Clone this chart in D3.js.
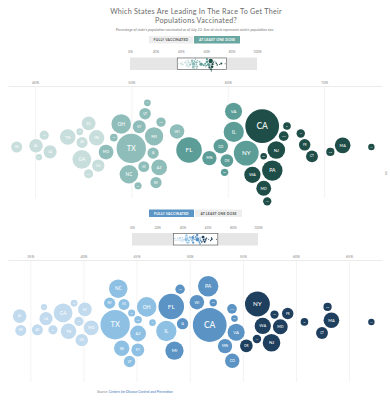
<!DOCTYPE html>
<html><head><meta charset="utf-8">
<script src="https://cdn.jsdelivr.net/npm/d3@7"></script>
<style>
body{margin:0;background:#fff;}
svg{display:block;font-family:Lato,"Open Sans",sans-serif;}
</style></head><body>
<svg id="c" width="390" height="400"></svg>
<script>
const states = ["AL","AK","AZ","AR","CA","CO","CT","DE","DC","FL","GA","HI","ID","IL","IN","IA","KS","KY","LA","ME","MD","MA","MI","MN","MS","MO","MT","NE","NV","NH","NJ","NM","NY","NC","ND","OH","OK","OR","PA","PR","RI","SC","SD","TN","TX","UT","VT","VA","WA","WV","WI","WY"];
const population = [5.02,0.73,7.15,3.01,39.5,5.77,3.61,0.99,0.69,21.5,10.7,1.46,1.84,12.8,6.79,3.19,2.94,4.51,4.66,1.36,6.18,7.03,10.1,5.71,2.96,6.15,1.08,1.96,3.10,1.38,9.29,2.12,20.2,10.4,0.78,11.8,3.96,4.24,13.0,3.29,1.10,5.12,0.89,6.91,29.1,3.27,0.64,8.63,7.71,1.79,5.89,0.58];
const oneDose = [40.2,51.6,52.5,44.6,63.5,59.4,68.7,59.7,63.5,56.0,44.9,67.6,40.9,61.1,46.4,52.2,50.6,50.9,41.5,70.7,63.5,71.9,52.1,58.0,38.1,47.2,48.6,53.0,52.6,64.0,65.0,64.9,61.9,50.1,44.7,49.1,46.5,59.9,64.5,68.0,66.1,45.6,50.5,43.6,50.1,51.3,74.9,60.6,62.9,45.7,54.8,40.4];
const fullyVax = [34.0,46.5,44.8,35.7,52.0,53.9,62.5,52.2,54.2,48.2,38.1,56.5,37.1,47.9,43.6,49.3,43.7,45.0,36.5,63.0,58.2,63.3,48.5,53.3,34.1,40.7,45.4,49.0,42.8,58.0,57.6,54.0,56.4,43.2,39.0,46.0,39.7,55.4,51.6,59.2,60.8,40.1,44.5,38.7,43.1,44.4,67.1,53.9,57.1,39.7,51.2,36.3];
const oneDoseTicks = [40,50,60,70];
const fullyTicks = [35,40,45,50,55,60,65];
const miniTicks = [0,20,40,60,80,100];
const tealColors = ["#c8dedc","#8fbdb9","#5c9e97","#1f4e49"];
const tealBreaks = [47,55,62.5];
const blueColors = ["#c1daee","#8ec0e4","#5a93c4","#1f3f5e"];
const blueBreaks = [41,48,55];

const svg = d3.select("#c");
const rScale = d3.scaleSqrt().domain([0,40]).range([1.2,17]);

// Title
svg.append("text").attr("x",196).attr("y",13.5).attr("text-anchor","middle")
  .attr("font-size",7.2).attr("fill","#6a6a6a").attr("letter-spacing",0.25)
  .text("Which States Are Leading In The Race To Get Their");
svg.append("text").attr("x",196).attr("y",23).attr("text-anchor","middle")
  .attr("font-size",7.2).attr("fill","#6a6a6a").attr("letter-spacing",0.25)
  .text("Populations Vaccinated?");
svg.append("text").attr("x",195).attr("y",30.5).attr("text-anchor","middle")
  .attr("font-size",3.7).attr("font-style","italic").attr("fill","#777")
  .text("Percentage of state's population vaccinated as of July 22. Size of circle represents state's population size.");

function drawChart(cfg){
  const g = svg.append("g");
  // buttons
  cfg.buttons.forEach(b=>{
    g.append("rect").attr("x",b.x).attr("y",cfg.btnY).attr("width",b.w).attr("height",7.5)
      .attr("fill",b.active?cfg.activeColor:"#eeeeee");
    g.append("text").attr("x",b.x+b.w/2).attr("y",cfg.btnY+5).attr("text-anchor","middle")
      .attr("font-size",3.4).attr("font-weight",700).attr("letter-spacing",0.2)
      .attr("fill",b.active?"#fff":"#555").text(b.label);
  });
  // mini overview
  const miniX = d3.scaleLinear().domain([0,100]).range([cfg.miniX0,cfg.miniX1]);
  const miniAxis = g.append("g").attr("transform",`translate(0,${cfg.miniY-1.5})`)
    .call(d3.axisTop(miniX).tickValues(miniTicks).tickSize(0).tickFormat(d=>d+"%"));
  miniAxis.select(".domain").remove();
  miniAxis.selectAll("text").attr("font-size",3.3).attr("fill","#888").attr("font-family","Lato");
  g.append("rect").attr("x",miniX(0)).attr("y",cfg.miniY).attr("width",miniX(100)-miniX(0)).attr("height",12.5).attr("fill","#e6e6e6");
  const d0 = cfg.x.domain();
  g.append("rect").attr("x",miniX(d0[0])).attr("y",cfg.miniY+0.5).attr("width",miniX(d0[1])-miniX(d0[0])).attr("height",11.5)
    .attr("fill","#fff").attr("stroke","#555").attr("stroke-width",0.6);

  // axis
  const ax = g.append("g").attr("transform",`translate(0,${cfg.axisY})`)
    .call(d3.axisTop(cfg.x).tickValues(cfg.ticks).tickSize(0).tickSizeOuter(0).tickPadding(2.5).tickFormat(d=>d+"%"));
  ax.select(".domain").attr("stroke","#e3e3e3").attr("stroke-width",0.7);
  ax.selectAll("text").attr("font-size",3.6).attr("fill","#888").attr("font-family","Lato");
  const grid = g.append("g").attr("transform",`translate(0,${cfg.axisY})`)
    .call(d3.axisBottom(cfg.x).tickValues(cfg.ticks).tickSize(cfg.gridBottom-cfg.axisY).tickFormat(""));
  grid.select(".domain").remove();
  grid.selectAll("line").attr("stroke","#eeeeee").attr("stroke-width",0.7);

  // swarm
  const nodes = states.map((s,i)=>({id:s,v:cfg.values[i],r:rScale(population[i]),x:cfg.x(cfg.values[i]),y:cfg.cy}));
  const sim = d3.forceSimulation(nodes)
    .force("x",d3.forceX(d=>cfg.x(d.v)).strength(1))
    .force("y",d3.forceY(cfg.cy).strength(0.06))
    .force("c",d3.forceCollide(d=>d.r+1).iterations(3))
    .stop();
  for(let i=0;i<400;i++) sim.tick();
  const color = d3.scaleThreshold().domain(cfg.breaks).range(cfg.colors);
  const ng = g.append("g").selectAll("g").data(nodes).join("g").attr("transform",d=>`translate(${d.x},${d.y})`);
  ng.append("circle").attr("r",d=>d.r).attr("fill",d=>color(d.v));
  ng.append("text").attr("text-anchor","middle").attr("dy","0.36em")
    .attr("font-size",d=>Math.max(d.r*0.5,1.2)).attr("font-weight",600).attr("fill","#fff")
    .attr("fill-opacity",0.92).text(d=>d.id);

  // mini swarm copy
  const k = (miniX(1)-miniX(0))/(cfg.x(1)-cfg.x(0));
  g.append("g").selectAll("circle").data(nodes).join("circle")
    .attr("cx",d=>miniX(cfg.x.invert(d.x)))
    .attr("cy",d=>cfg.miniY+6.25+(d.y-cfg.cy)*k)
    .attr("r",d=>Math.max(d.r*k,0.5)).attr("fill",d=>color(d.v));
}

drawChart({
  values: oneDose,
  x: d3.scaleLinear().domain([37.2,76]).range([8,382]),
  ticks: oneDoseTicks, axisY: 86, gridBottom: 198, cy: 147,
  colors: tealColors, breaks: tealBreaks, activeColor:"#6aa7a1",
  btnY: 36, buttons:[{x:149,w:44,label:"FULLY VACCINATED",active:false},{x:194,w:46,label:"AT LEAST ONE DOSE",active:true}],
  miniX0:130, miniX1:257, miniY:57.5
});
drawChart({
  values: fullyVax,
  x: d3.scaleLinear().domain([32.9,68.1]).range([8,382]),
  ticks: fullyTicks, axisY: 260, gridBottom: 382, cy: 322,
  colors: blueColors, breaks: blueBreaks, activeColor:"#5b95c5",
  btnY: 209.5, buttons:[{x:149,w:45,label:"FULLY VACCINATED",active:true},{x:195,w:47,label:"AT LEAST ONE DOSE",active:false}],
  miniX0:132, miniX1:258, miniY:233
});

svg.append("text").attr("x",386).attr("y",175).attr("text-anchor","middle").attr("font-size",5).attr("fill","#999").text("⇕");
const src = svg.append("text").attr("x",97).attr("y",392.5).attr("font-size",3.6).attr("font-style","italic");
src.append("tspan").attr("fill","#888").text("Source: ");
src.append("tspan").attr("fill","#3b6fb6").text("Centers for Disease Control and Prevention");
</script>
</body></html>
